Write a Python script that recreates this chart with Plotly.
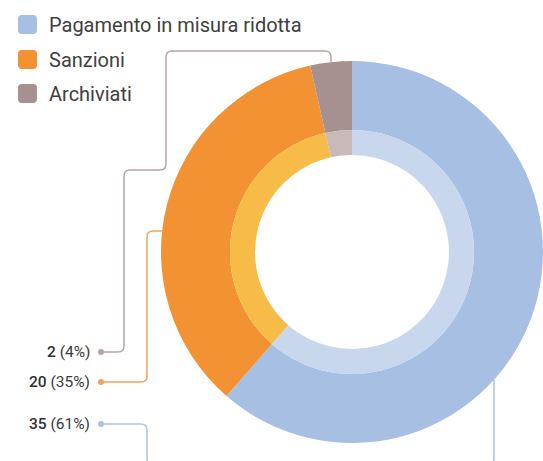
import math
import plotly.graph_objects as go

# ---- data ----
categories = ["Pagamento in misura ridotta", "Sanzioni", "Archiviati"]
values = [35, 20, 2]
percent_labels = ["61%", "35%", "4%"]

outer_colors = ["#A6BFE3", "#F29233", "#A69190"]
inner_colors = ["#C8D7EE", "#F7BB47", "#C9B9B9"]
line_colors = ["#A9C1E6", "#F4A257", "#B8A5A5"]

W, H = 543, 461
CX, CY = 352, 252          # pie centre (px)
R_OUT, R_MID, R_IN = 191, 122, 97

def dom_x(c, r):
    return [max(0, (c - r) / W), min(1, (c + r) / W)]

def dom_y(c, r):
    cy = H - c
    return [max(0, (cy - r) / H), min(1, (cy + r) / H)]

fig = go.Figure()
fig.add_trace(go.Pie(
    labels=categories, values=values, sort=False, direction="clockwise", rotation=0,
    hole=R_MID / R_OUT, marker=dict(colors=outer_colors, line=dict(width=0)),
    textinfo="none", showlegend=False,
    domain=dict(x=[(CX - R_OUT) / W, 1], y=dom_y(CY, R_OUT)),
))
fig.add_trace(go.Pie(
    labels=categories, values=values, sort=False, direction="clockwise", rotation=0,
    hole=R_IN / R_MID, marker=dict(colors=inner_colors, line=dict(width=0)),
    textinfo="none", showlegend=False,
    domain=dict(x=dom_x(CX, R_MID), y=dom_y(CY, R_MID)),
))

# slice angles (clockwise from 12 o'clock)
total = sum(values)
starts, acc = [], 0
for v in values:
    starts.append(acc / total * 360)
    acc += v
mids = [s + v / total * 180 for s, v in zip(starts, values)]

def circle_x_at_y(y, side):
    return CX + side * math.sqrt(R_OUT ** 2 - (y - CY) ** 2)

def circle_y_at_x(x, side):
    return CY + side * math.sqrt(R_OUT ** 2 - (x - CX) ** 2)

# label anchors
DOT_X = 101
LABEL_Y = [424, 382, 352]
rc = 6

# grey (Archiviati) - ends at slice middle on outer edge
gx = CX + R_OUT * math.sin(math.radians(mids[2]))
gy = CY - R_OUT * math.cos(math.radians(mids[2]))
ly = LABEL_Y[2]
p_grey = (f"M {DOT_X} {ly} H {124-rc} Q 124 {ly} 124 {ly-rc} V {170+rc} Q 124 170 {124+rc} 170 "
          f"H {166-rc} Q 166 170 166 {170-rc} V {51+rc} Q 166 51 {166+rc} 51 "
          f"H {gx-rc} Q {gx} 51 {gx} {51+rc} V {gy}")

# orange (Sanzioni)
ly = LABEL_Y[1]
ox = circle_x_at_y(231, -1)
p_orange = (f"M {DOT_X} {ly} H {147-rc} Q 147 {ly} 147 {ly-rc} V {231+rc} Q 147 231 {147+rc} 231 H {ox}")

# blue (Pagamento)
ly = LABEL_Y[0]
by = circle_y_at_x(494, 1)
BOT = 465
p_blue = (f"M {DOT_X} {ly} H {147-rc} Q 147 {ly} 147 {ly+rc} V {BOT-rc} Q 147 {BOT} {147+rc} {BOT} "
          f"H {494-rc} Q 494 {BOT} 494 {BOT-rc} V {by}")

shapes = []
for p, c in zip([p_blue, p_orange, p_grey], line_colors):
    shapes.append(dict(type="path", path=p, xref="x", yref="y",
                       line=dict(color=c, width=1.5), layer="below"))

# legend rounded squares
LEG_Y = [24.5, 59.5, 93.5]
s, r = 19, 4
for yc, col in zip(LEG_Y, outer_colors):
    x0, y0 = 18, yc - s / 2
    x1, y1 = x0 + s, y0 + s
    path = (f"M {x0+r} {y0} H {x1-r} Q {x1} {y0} {x1} {y0+r} V {y1-r} Q {x1} {y1} {x1-r} {y1} "
            f"H {x0+r} Q {x0} {y1} {x0} {y1-r} V {y0+r} Q {x0} {y0} {x0+r} {y0} Z")
    shapes.append(dict(type="path", path=path, xref="x", yref="y",
                       fillcolor=col, line=dict(width=0)))

annotations = []
for yc, name in zip(LEG_Y, categories):
    annotations.append(dict(x=47, y=yc, xref="x", yref="y", text=name, showarrow=False,
                            xanchor="left", yanchor="middle",
                            font=dict(family="Roboto", size=20, color="#404040")))
for yc, v, p in zip(LABEL_Y, values, percent_labels):
    annotations.append(dict(x=92, y=yc, xref="x", yref="y",
                            text=f"<span style='font-weight:500;color:#2f2f2f'>{v}</span> ({p})",
                            showarrow=False, xanchor="right", yanchor="middle",
                            font=dict(family="Roboto", size=15.5, color="#3a3a3a")))

# dots at label ends
fig.add_trace(go.Scatter(x=[DOT_X] * 3, y=LABEL_Y, mode="markers",
                         marker=dict(size=6, color=line_colors),
                         hoverinfo="skip", showlegend=False))

fig.update_layout(
    width=W, height=H, margin=dict(l=0, r=0, t=0, b=0),
    paper_bgcolor="white", plot_bgcolor="rgba(0,0,0,0)",
    xaxis=dict(range=[0, W], visible=False, domain=[0, 1], fixedrange=True),
    yaxis=dict(range=[H, 0], visible=False, domain=[0, 1], fixedrange=True),
    shapes=shapes, annotations=annotations, showlegend=False,
)

fig.write_html("out.html", config={"displayModeBar": False},
               post_script="document.body.style.margin='0px';document.body.style.overflow='hidden';")
